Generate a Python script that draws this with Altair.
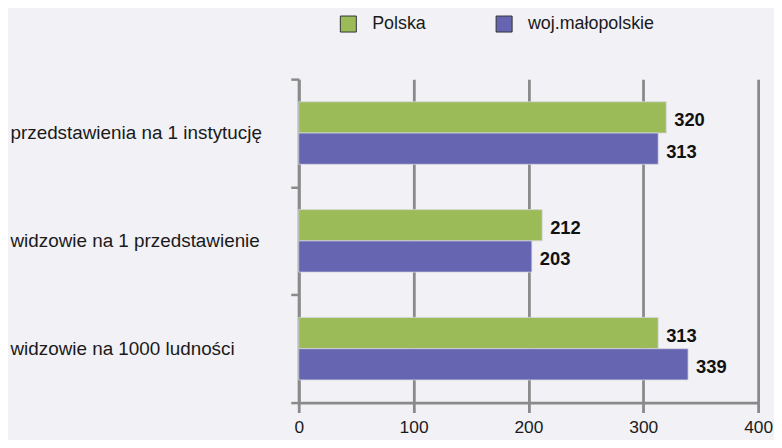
import altair as alt
import pandas as pd

categories = ["przedstawienia na 1 instytucję", "widzowie na 1 przedstawienie", "widzowie na 1000 ludności"]
series = ["Polska", "woj.małopolskie"]
polska = [320, 212, 313]
malopolskie = [313, 203, 339]
colors = ["#9bbb59", "#6565b2"]

rows = []
for c, p, m in zip(categories, polska, malopolskie):
    rows.append({"kategoria": c, "seria": series[0], "wartosc": p})
    rows.append({"kategoria": c, "seria": series[1], "wartosc": m})
df = pd.DataFrame(rows)

FONT = "Liberation Sans"
GRAY = "#8a8a8a"

y_enc = alt.Y("kategoria:N", sort=categories, title=None,
              scale=alt.Scale(paddingInner=0, paddingOuter=0),
              axis=alt.Axis(tickBand="extent", tickSize=8, tickWidth=2.5, tickColor=GRAY,
                            domainColor=GRAY, domainWidth=2.8,
                            labelAlign="left", labelPadding=283, labelFontSize=19,
                            labelFont=FONT, labelColor="#1a1a1a", labelLimit=300))
yoff = alt.YOffset("seria:N", sort=series, scale=alt.Scale(paddingInner=0, paddingOuter=0.725))
x_enc = alt.X("wartosc:Q", title=None,
              scale=alt.Scale(domain=[0, 400], nice=False),
              axis=alt.Axis(values=[0, 100, 200, 300, 400], grid=True, gridColor=GRAY, gridWidth=2.8,
                            gridOpacity=1, domainColor=GRAY, domainWidth=2.8,
                            tickColor=GRAY, tickWidth=2.8, tickSize=10, labelPadding=6,
                            labelFontSize=17.5, labelFont=FONT, labelColor="#1a1a1a",
                            labelFlush=False, labelOverlap=False))

bars = alt.Chart(df).mark_bar(stroke="#d8d8e0", strokeWidth=0.8).encode(
    y=y_enc, yOffset=yoff, x=x_enc,
    color=alt.Color("seria:N", sort=series,
                    scale=alt.Scale(domain=series, range=colors),
                    legend=alt.Legend(title=None, orient="none", direction="horizontal",
                                      legendX=41, legendY=-65, padding=0,
                                      symbolType="square", symbolSize=260,
                                      symbolStrokeColor="#333333", symbolStrokeWidth=1,
                                      symbolOpacity=1, labelFont=FONT, labelFontSize=18,
                                      labelColor="#1a1a1a", labelOffset=15,
                                      columnPadding=67)),
)

labels = alt.Chart(df).mark_text(align="left", baseline="middle", dx=8, dy=3,
                                 font=FONT, fontSize=18.5, fontWeight="bold",
                                 color="#111111").encode(
    y=alt.Y("kategoria:N", sort=categories), yOffset=alt.YOffset("seria:N", sort=series),
    x=alt.X("wartosc:Q"), text=alt.Text("wartosc:Q"),
)

chart = alt.layer(bars, labels).properties(
    width=463, height=326,
    autosize=alt.AutoSizeParams(type="none"),
    padding={"left": 293, "top": 70, "right": 16, "bottom": 36},
    background="#f1f1f6",
).configure_view(stroke=None)

chart.save("out.html", embed_options={"renderer": "svg", "actions": False})
